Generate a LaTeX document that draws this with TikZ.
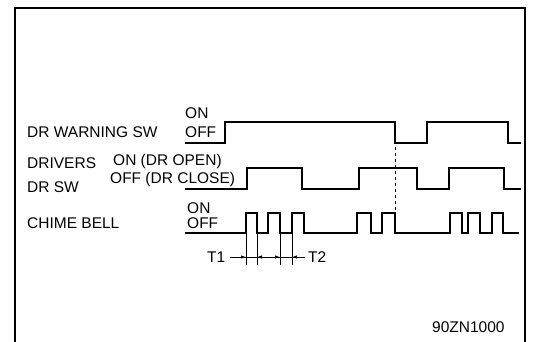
\documentclass[tikz,border=0pt]{standalone}
\usepackage{fontspec}
\setmainfont{Liberation Sans}
\usetikzlibrary{arrows.meta}

\begin{document}
\begin{tikzpicture}[x=1pt,y=-1pt,font=\fontsize{15.5}{18}\selectfont,
  lbl/.style={anchor=base west,inner sep=0pt},
  wave/.style={line width=1.4pt,line join=miter},
  dim/.style={line width=0.9pt},>={Latex[length=5pt,width=3.5pt]}]
\useasboundingbox (0,0) rectangle (533,342);
\draw[line width=2.2pt] (15,342) -- (15,8) -- (525,8) -- (525,342);
% signal names
\node[lbl] (warn) at (27,138) {DR WARNING SW};
\node[lbl] (drv) at (27,169) {DRIVERS};
\node[lbl] (drsw) at (27,193) {DR SW};
\node[lbl] (chime) at (27,228) {CHIME BELL};
% levels
\node[lbl] (wOn) at (185,119) {ON};
\node[lbl] (wOff) at (185,138) {OFF};
\node[lbl] (dOn) at (113,166) {ON (DR OPEN)};
\node[lbl] (dOff) at (110,184) {OFF (DR CLOSE)};
\node[lbl] (cOn) at (187,213) {ON};
\node[lbl] (cOff) at (187,228) {OFF};
% waveforms
\draw[wave] (185,143) -- (225,143) |- (395,122) |- (427,143) |- (508,122) |- (521,143);
\draw[wave] (185,189) -- (247,189) |- (302,168) |- (359,189) |- (417,168) |- (449,189) |- (504,168) |- (521,189);
\draw[wave] (185,233) foreach \a/\b in {246/257,268/280,292/304,357/371,382/395,450/462,468/480,492/503}{
  -- (\a,233) -- (\a,213) -- (\b,213) -- (\b,233)} -- (519,233);
\draw[dim,dashed] (395,141) -- (395,233);
% T1 / T2
\foreach \x/\n in {246/a,257/b,280/c,292/d}
  \draw[dim] (\x,233) -- (\x,265) coordinate[pos=0.75] (t\n);
\coordinate (tl) at (230,257);
\coordinate (tr) at (305,257);
\draw[dim] (tl) -- (tr);
\draw[dim,->] (tl) -- (ta);
\draw[dim,<->] (tb) -- (tc);
\draw[dim,->] (tr) -- (td);
\node[lbl] (t1) at (207,262) {T1};
\node[lbl] (t2) at (308,262) {T2};
\node[lbl] (code) at (432,332) {90ZN1000};
\end{tikzpicture}
\end{document}
